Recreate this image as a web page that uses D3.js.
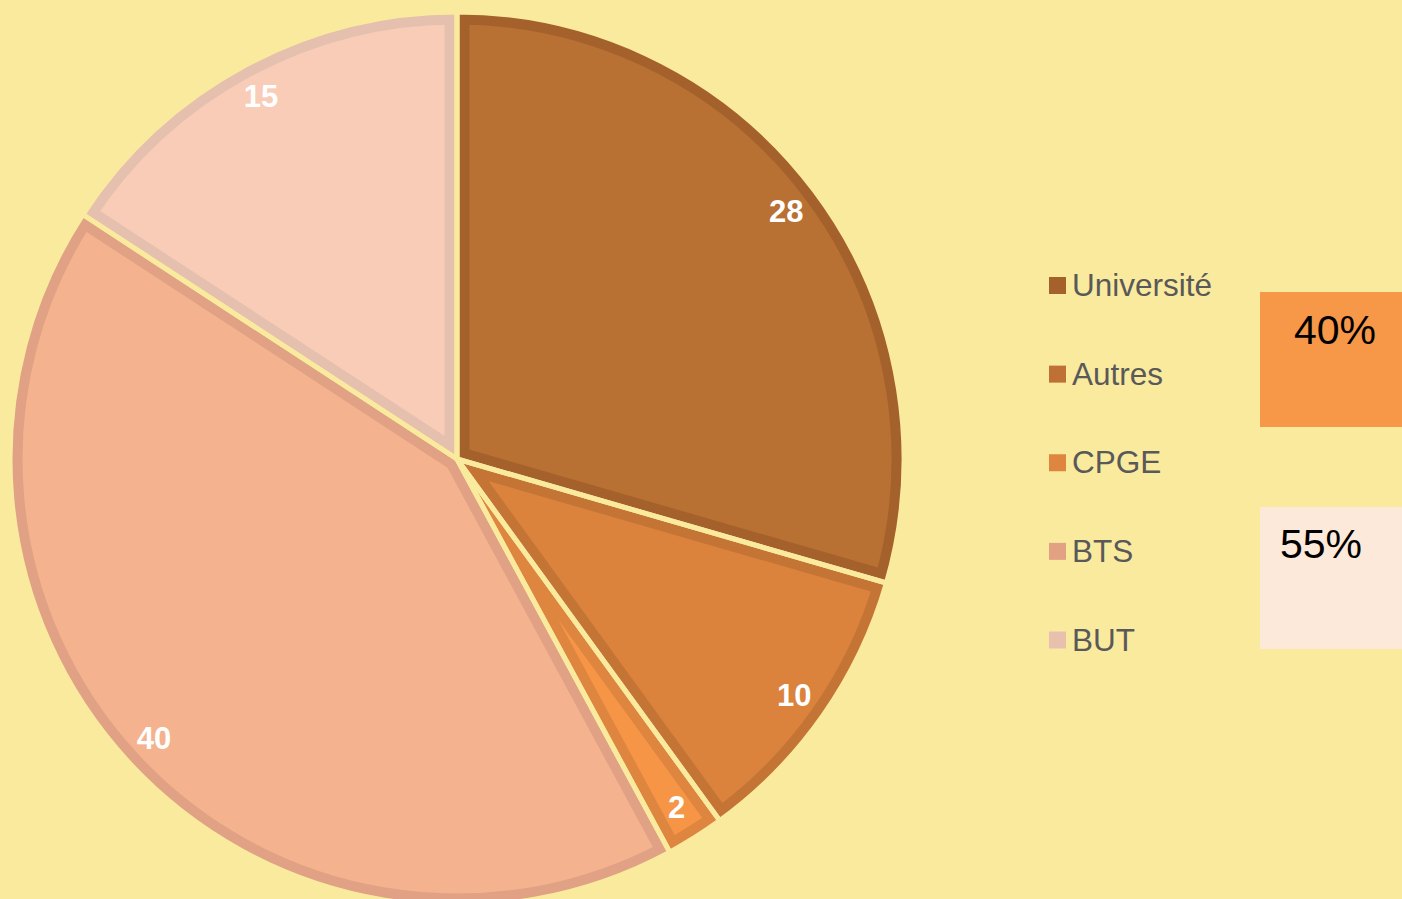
<!DOCTYPE html>
<html><head><meta charset="utf-8">
<script src="https://cdn.jsdelivr.net/npm/d3@7"></script>
<style>html,body{margin:0;padding:0;background:#FAEA9E;}svg{display:block;}</style>
</head><body>
<svg id="chart" width="1402" height="899"></svg>
<script>
const categories = ["Université", "Autres", "CPGE", "BTS", "BUT"];
const values = [28, 10, 2, 40, 15];
const fillColors = ["#B87033", "#DB823D", "#F59545", "#F5B28E", "#F9CCB7"];
const borderColors = ["#A5612C", "#C47434", "#DE8540", "#E0A184", "#E5C0AE"];
const legendColors = ["#A5612C", "#BF7034", "#DE8540", "#E3A184", "#E8C0AE"];
const boxLabels = ["40%", "55%"];
const boxColors = ["#F79748", "#FDE9D9"];

const bg = "#FAEA9E";
const svg = d3.select("#chart");
svg.append("rect").attr("width", 1402).attr("height", 899).attr("fill", bg);

const cx = 457, cy = 459, R = 447;
const pie = d3.pie().sort(null).value(d => d)(values);
const arc = d3.arc().innerRadius(0).outerRadius(R);
const g = svg.append("g").attr("transform", `translate(${cx},${cy})`);
const defs = svg.append("defs");

pie.forEach((p, i) => {
  defs.append("clipPath").attr("id", "clip" + i).append("path").attr("d", arc(p));
  g.append("path").attr("d", arc(p))
    .attr("fill", fillColors[i])
    .attr("stroke", borderColors[i])
    .attr("stroke-width", 25)
    .attr("stroke-linejoin", "miter")
    .attr("clip-path", `url(#clip${i})`);
});
pie.forEach((p, i) => {
  g.append("path").attr("d", arc(p))
    .attr("fill", "none").attr("stroke", bg).attr("stroke-width", 5)
    .attr("stroke-linejoin", "round");
});

const labelArc = d3.arc().innerRadius(412).outerRadius(412);
pie.forEach((p, i) => {
  const [x, y] = labelArc.centroid(p);
  g.append("text").attr("x", x).attr("y", y)
    .attr("text-anchor", "middle").attr("dominant-baseline", "central")
    .attr("font-family", "Liberation Sans, Arial, sans-serif")
    .attr("font-weight", "bold").attr("font-size", 31)
    .attr("fill", "#FFFFFF").text(values[i]);
});

// legend
const ly = d3.scalePoint().domain(categories).range([285.5, 640]);
const leg = svg.append("g");
categories.forEach((c, i) => {
  leg.append("rect").attr("x", 1049).attr("y", ly(c) - 8.5).attr("width", 17).attr("height", 17)
    .attr("fill", legendColors[i]);
  leg.append("text").attr("x", 1072).attr("y", ly(c) + 10.5)
    .attr("font-family", "Liberation Sans, Arial, sans-serif")
    .attr("font-size", 31.5).attr("fill", "#595959").text(c);
});

// boxes
const boxes = [{y: 292, h: 135, tx: 1294, ty: 344}, {y: 507, h: 142, tx: 1280, ty: 558}];
boxes.forEach((b, i) => {
  svg.append("rect").attr("x", 1260).attr("y", b.y).attr("width", 142).attr("height", b.h)
    .attr("fill", boxColors[i]);
  svg.append("text").attr("x", b.tx).attr("y", b.ty)
    .attr("font-family", "Liberation Sans, Arial, sans-serif")
    .attr("font-size", 41).attr("fill", "#000000").text(boxLabels[i]);
});
</script>
</body></html>
